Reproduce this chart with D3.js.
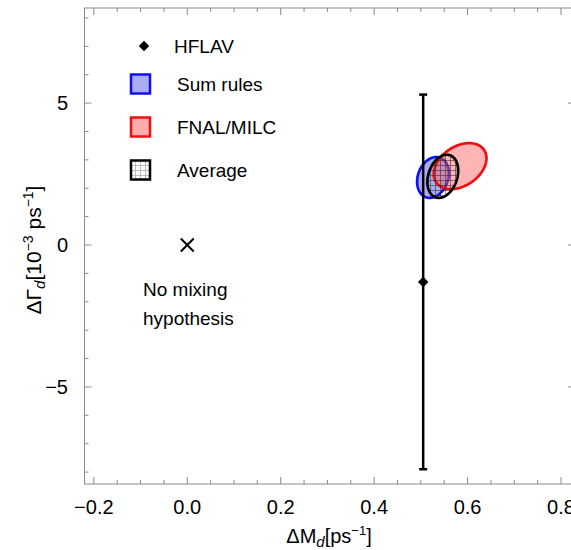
<!DOCTYPE html>
<html><head><meta charset="utf-8">
<script src="https://cdn.jsdelivr.net/npm/d3@7"></script>
<style>body{margin:0;background:#fff}svg{display:block;font-family:"Liberation Sans",Arial,sans-serif}</style>
</head><body><svg id="c" width="571" height="550"></svg>
<script>
// ---- data ----
const xDomain = [-0.22, 0.83];
const yDomain = [-8.42, 8.35];
const xTicks = [-0.2, 0.0, 0.2, 0.4, 0.6, 0.8];
const xTickLabels = ["\u22120.2", "0.0", "0.2", "0.4", "0.6", "0.8"];
const yTicks = [-5, 0, 5];
const yTickLabels = ["\u22125", "0", "5"];
// HFLAV measurement: x, y central, y low, y high
const hflav = {x: 0.505, y: -1.3, lo: -7.9, hi: 5.3};
// No-mixing hypothesis point
const noMixing = {x: 0, y: 0};
// contour regions: centre, half-widths, phase (tilt)
const regionNames = ["Sum rules", "FNAL/MILC", "Average"];
const regionCx = [0.526, 0.584, 0.547];
const regionCy = [2.38, 2.78, 2.42];
const regionSx = [0.034, 0.0565, 0.033];
const regionSy = [0.72, 0.81, 0.76];
const regionPhase = [78, 70, 75];
const regionStroke = ["#1010ee", "#ee1010", "#000000"];
const regionFill = ["rgba(90,90,235,0.5)", "rgba(255,90,90,0.45)", "url(#grid)"];
const legendLabels = ["HFLAV", "Sum rules", "FNAL/MILC", "Average"];

// ---- layout ----
const svg = d3.select("#c");
const L = 84.5, R = 575, T = 8, B = 484;
const x = d3.scaleLinear().domain(xDomain).range([L, R]);
const y = d3.scaleLinear().domain(yDomain).range([B, T]);

const defs = svg.append("defs");
const pat = defs.append("pattern").attr("id", "grid").attr("patternUnits", "userSpaceOnUse")
  .attr("width", 5).attr("height", 5);
pat.append("path").attr("d", "M0 0.5H5M0.5 0V5").attr("stroke", "rgba(40,40,40,0.55)").attr("stroke-width", 1).attr("fill", "none");
const pat2 = defs.append("pattern").attr("id", "grid2").attr("patternUnits", "userSpaceOnUse")
  .attr("width", 5).attr("height", 5);
pat2.append("path").attr("d", "M0 0.5H5M0.5 0V5").attr("stroke", "#bbb").attr("stroke-width", 1).attr("fill", "none");

const frameCol = "#8a8a8a";
// frame
svg.append("rect").attr("x", L).attr("y", T).attr("width", R - L).attr("height", B - T)
  .attr("fill", "none").attr("stroke", frameCol).attr("stroke-width", 1);

// ticks
const xMinor = d3.range(-0.20, 0.8001, 0.05).map(v => +v.toFixed(2));
const yMinor = d3.range(-8, 8.001, 1);
const g = svg.append("g").attr("stroke", frameCol).attr("stroke-width", 1);
xMinor.forEach(v => {
  const major = xTicks.some(t => Math.abs(t - v) < 1e-6);
  const len = major ? 7 : 4;
  g.append("line").attr("x1", x(v)).attr("x2", x(v)).attr("y1", B).attr("y2", B - len);
  g.append("line").attr("x1", x(v)).attr("x2", x(v)).attr("y1", T).attr("y2", T + len);
});
yMinor.forEach(v => {
  const major = yTicks.includes(v);
  const len = major ? 7 : 4;
  g.append("line").attr("y1", y(v)).attr("y2", y(v)).attr("x1", L).attr("x2", L + len);
  g.append("line").attr("y1", y(v)).attr("y2", y(v)).attr("x1", R).attr("x2", R - len);
});

// tick labels
xTicks.forEach((v, i) => {
  svg.append("text").attr("x", x(v)).attr("y", 514).attr("text-anchor", "middle")
    .attr("font-size", 20).text(xTickLabels[i]);
});
yTicks.forEach((v, i) => {
  svg.append("text").attr("x", 68).attr("y", y(v) + 7).attr("text-anchor", "end")
    .attr("font-size", 20).text(yTickLabels[i]);
});

// axis titles
const xt = svg.append("text").attr("x", 329).attr("y", 543).attr("text-anchor", "middle").attr("font-size", 20);
xt.append("tspan").text("\u0394M");
xt.append("tspan").attr("font-style", "italic").attr("font-size", 15).attr("dy", 4).text("d");
xt.append("tspan").attr("dy", -4).text("[ps");
xt.append("tspan").attr("font-size", 13).attr("dy", -8).text("\u22121");
xt.append("tspan").attr("dy", 8).text("]");

const yt = svg.append("text").attr("transform", "translate(41,250) rotate(-90)").attr("text-anchor", "middle").attr("font-size", 21);
yt.append("tspan").text("\u0394\u0393");
yt.append("tspan").attr("font-style", "italic").attr("font-size", 15).attr("dy", 4).text("d");
yt.append("tspan").attr("dy", -4).text("[10");
yt.append("tspan").attr("font-size", 14).attr("dy", -8).text("\u22123");
yt.append("tspan").attr("dy", 8).text(" ps");
yt.append("tspan").attr("font-size", 14).attr("dy", -8).text("\u22121");
yt.append("tspan").attr("dy", 8).text("]");

// regions
const line = d3.line().curve(d3.curveLinearClosed);
regionNames.forEach((n, i) => {
  const ph = regionPhase[i] * Math.PI / 180;
  const pts = d3.range(0, 360, 3).map(a => {
    const t = a * Math.PI / 180;
    return [x(regionCx[i] + regionSx[i] * Math.cos(t)), y(regionCy[i] + regionSy[i] * Math.cos(t - ph))];
  });
  svg.append("path").attr("d", line(pts)).attr("fill", regionFill[i])
    .attr("stroke", regionStroke[i]).attr("stroke-width", 2.7);
});

// HFLAV error bar
const eb = svg.append("g").attr("stroke", "#000").attr("stroke-width", 2.5);
eb.append("line").attr("x1", x(hflav.x)).attr("x2", x(hflav.x)).attr("y1", y(hflav.lo)).attr("y2", y(hflav.hi));
[hflav.lo, hflav.hi].forEach(v => eb.append("line").attr("x1", x(hflav.x) - 4).attr("x2", x(hflav.x) + 4).attr("y1", y(v)).attr("y2", y(v)));
svg.append("path").attr("d", d3.symbol(d3.symbolDiamond2, 70)()).attr("transform", `translate(${x(hflav.x)},${y(hflav.y)})`).attr("fill", "#000");

// no mixing
svg.append("path").attr("d", d3.symbol(d3.symbolTimes, 110)()).attr("transform", `translate(${x(noMixing.x)},${y(noMixing.y)})`)
  .attr("fill", "none").attr("stroke", "#000").attr("stroke-width", 2);
svg.append("text").attr("x", 143).attr("y", 296).attr("font-size", 19).text("No mixing");
svg.append("text").attr("x", 143).attr("y", 325).attr("font-size", 19).text("hypothesis");

// legend
svg.append("path").attr("d", d3.symbol(d3.symbolDiamond2, 70)()).attr("transform", "translate(144,46)").attr("fill", "#000");
svg.append("text").attr("x", 174).attr("y", 53).attr("font-size", 19).text(legendLabels[0]);
const legFills = ["rgba(90,90,235,0.5)", "rgba(255,90,90,0.5)", "url(#grid2)"];
[0, 1, 2].forEach(i => {
  const cy = 84 + i * 43;
  svg.append("rect").attr("x", 131).attr("y", cy - 9.5).attr("width", 19).attr("height", 19)
    .attr("fill", legFills[i]).attr("stroke", regionStroke[i]).attr("stroke-width", 2.5);
  svg.append("text").attr("x", 177).attr("y", cy + 7).attr("font-size", 19).text(legendLabels[i + 1]);
});
</script></body></html>
